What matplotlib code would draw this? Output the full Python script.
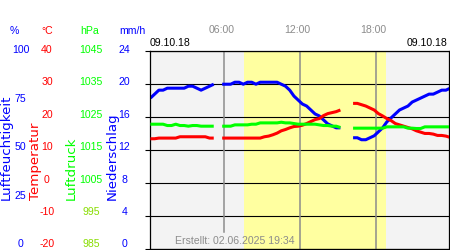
import numpy as np
import matplotlib
matplotlib.use("Agg")
import matplotlib.pyplot as plt

# ---- data (20-minute samples, hours since midnight) ----
times = [1/6 + k/3 for k in range(72)]
nan = float("nan")
humidity = [76, 78, 80, 80, 81, 81, 81, 81, 81, 82, 82, 81, 80, 81, 82, 83,
            nan, 83, 83, 83, 84, 84, 83, 84, 84, 83, 84, 84, 84, 84, 84, 83,
            82, 80, 77, 75, 73, 72, 70, 68, 67, 65, 63, 62, 61, 61, nan, nan,
            56, 56, 55, 55, 56, 57, 59, 61, 64, 66, 68, 70, 71, 72, 74, 75,
            76, 77, 78, 78, 79, 80, 80, 81]
temperature = [13.3, 13.3, 13.5, 13.5, 13.5, 13.5, 13.5, 13.9, 13.9, 13.9, 13.9, 13.9,
               13.9, 13.9, 13.5, 13.5, nan, 13.5, 13.5, 13.5, 13.5, 13.5, 13.5, 13.5,
               13.5, 13.5, 13.5, 13.9, 14.1, 14.5, 15.0, 15.7, 16.1, 16.6, 17.0, 17.1,
               17.4, 17.9, 18.5, 19.1, 19.4, 20.3, 20.9, 21.2, 21.5, 22.0, nan, nan,
               24.0, 24.0, 23.6, 23.2, 22.6, 22.0, 20.9, 20.2, 19.4, 18.8, 17.9, 17.5,
               17.1, 16.7, 16.3, 15.7, 15.3, 14.9, 14.9, 14.7, 14.3, 14.3, 14.1, 13.7]
pressure = [1022.7, 1022.7, 1022.7, 1022.7, 1022.3, 1022.3, 1022.7, 1022.3, 1022.3,
            1022.1, 1022.3, 1022.3, 1022.1, 1022.1, 1022.1, 1022.1, nan, 1022.1,
            1022.1, 1022.1, 1022.5, 1022.5, 1022.5, 1022.5, 1022.7, 1022.7, 1023.1,
            1023.1, 1023.1, 1023.1, 1023.1, 1023.3, 1023.1, 1023.1, 1022.9, 1022.7,
            1022.7, 1022.7, 1022.7, 1022.7, 1022.5, 1022.3, 1022.3, 1022.1, 1022.1,
            1021.7, nan, nan, 1021.5, 1021.5, 1021.5, 1021.5, 1021.5, 1021.5, 1021.5,
            1021.5, 1021.9, 1021.9, 1021.9, 1021.9, 1021.9, 1021.5, 1021.5, 1021.4,
            1021.4, 1021.9, 1021.9, 1021.9, 1021.9, 1021.9, 1021.9, 1021.9]

hum_ticks = ["100", "75", "50", "25", "0"]
temp_ticks = ["40", "30", "20", "10", "0", "-10", "-20"]
pres_ticks = ["1045", "1035", "1025", "1015", "1005", "995", "985"]
rain_ticks = ["24", "20", "16", "12", "8", "4", "0"]
hour_marks = [6, 12, 18]
hour_labels = ["06:00", "12:00", "18:00"]
daylight = (7.55, 18.79)
date_label = "09.10.18"
created = "Erstellt: 02.06.2025 19:34"

BLUE = "#0000ff"
RED = "#ff0000"
GREEN = "#00ff00"
GRAY = "#8c8c8c"

plt.rcParams["font.family"] = ["Liberation Sans", "DejaVu Sans"]

W, H = 450, 250
fig = plt.figure(figsize=(W / 100, H / 100), dpi=100)
fig.patch.set_facecolor("white")

def px(x, y):
    return x / W, 1 - y / H

l, t, r, b = 150, 50.5, 449, 248.8
ax = fig.add_axes([l / W, 1 - b / H, (r - l) / W, (b - t) / H])
ax.set_xlim(0.134, 23.74)
ax.set_ylim(0, 100)
ax.set_facecolor("#f3f3f3")
ax.axvspan(*daylight, color="#ffffa0", zorder=0, lw=0)
ax.set_yticks(np.linspace(0, 100, 7))
ax.grid(axis="y", color="black", lw=0.8)
ax.set_axisbelow(True)
ax.tick_params(left=False, bottom=False, labelleft=False, labelbottom=False)
for s in ax.spines.values():
    s.set_color("black")
    s.set_linewidth(0.9)
    s.set_zorder(5)
for i, h in enumerate(hour_marks):
    ymin = (b - 231.7) / (b - t) if i == 0 else 0
    ax.axvline(h, ymin=ymin, ymax=1, color=GRAY, lw=1.1, zorder=1)

lw = 2.2
ax.plot(times, humidity, color=BLUE, lw=lw, solid_capstyle="butt", zorder=3)

ax_t = ax.twinx()
ax_t.set_ylim(-20, 40)
ax_t.plot(times, temperature, color=RED, lw=lw, solid_capstyle="butt")
ax_p = ax.twinx()
ax_p.set_ylim(985, 1045)
ax_p.plot(times, pressure, color=GREEN, lw=lw, solid_capstyle="butt")
for a in (ax_t, ax_p):
    a.set_xlim(ax.get_xlim())
    a.tick_params(right=False, labelright=False)
    for s in a.spines.values():
        s.set_visible(False)

fs = 7.6
# headers
for txt, x, c in [("%", 14, BLUE), ("°C", 47, RED), ("hPa", 90, GREEN), ("mm/h", 132, BLUE)]:
    fig.text(*px(x, 31), txt, color=c, fontsize=fs, ha="center", va="center")
# tick labels
for i, s in enumerate(hum_ticks):
    fig.text(*px(20.5, 50 + i * 48.6), s, color=BLUE, fontsize=fs, ha="center", va="center")
for i, s in enumerate(temp_ticks):
    y = 50 + i * 32.4
    fig.text(*px(47, y), s, color=RED, fontsize=fs, ha="center", va="center")
    fig.text(*px(91, y), pres_ticks[i], color=GREEN if i < 5 else "#88dd00",
             fontsize=fs, ha="center", va="center")
    fig.text(*px(124.5, y), rain_ticks[i], color=BLUE, fontsize=fs, ha="center", va="center")
# rotated axis titles
for txt, x, c in [("Luftfeuchtigkeit", 6, BLUE), ("Temperatur", 35, RED),
                  ("Luftdruck", 71, GREEN), ("Niederschlag", 112.5, BLUE)]:
    fig.text(*px(x, 200), txt, color=c, fontsize=9.6, rotation=90,
             ha="center", va="bottom", family=["DejaVu Sans"])

# time labels
for h, s in zip(hour_marks, hour_labels):
    xpix = 224.3 + (h - 6) * 12.667 - 2.7
    fig.text(*px(xpix, 30), s, color=GRAY, fontsize=fs, ha="center", va="center")
fig.text(*px(150, 43.5), date_label, color="black", fontsize=fs, ha="left", va="center")
fig.text(*px(447, 43.5), date_label, color="black", fontsize=fs, ha="right", va="center")
fig.text(*px(175, 241), created, color=GRAY, fontsize=fs, ha="left", va="center")

fig.savefig("out.png", dpi=100)
